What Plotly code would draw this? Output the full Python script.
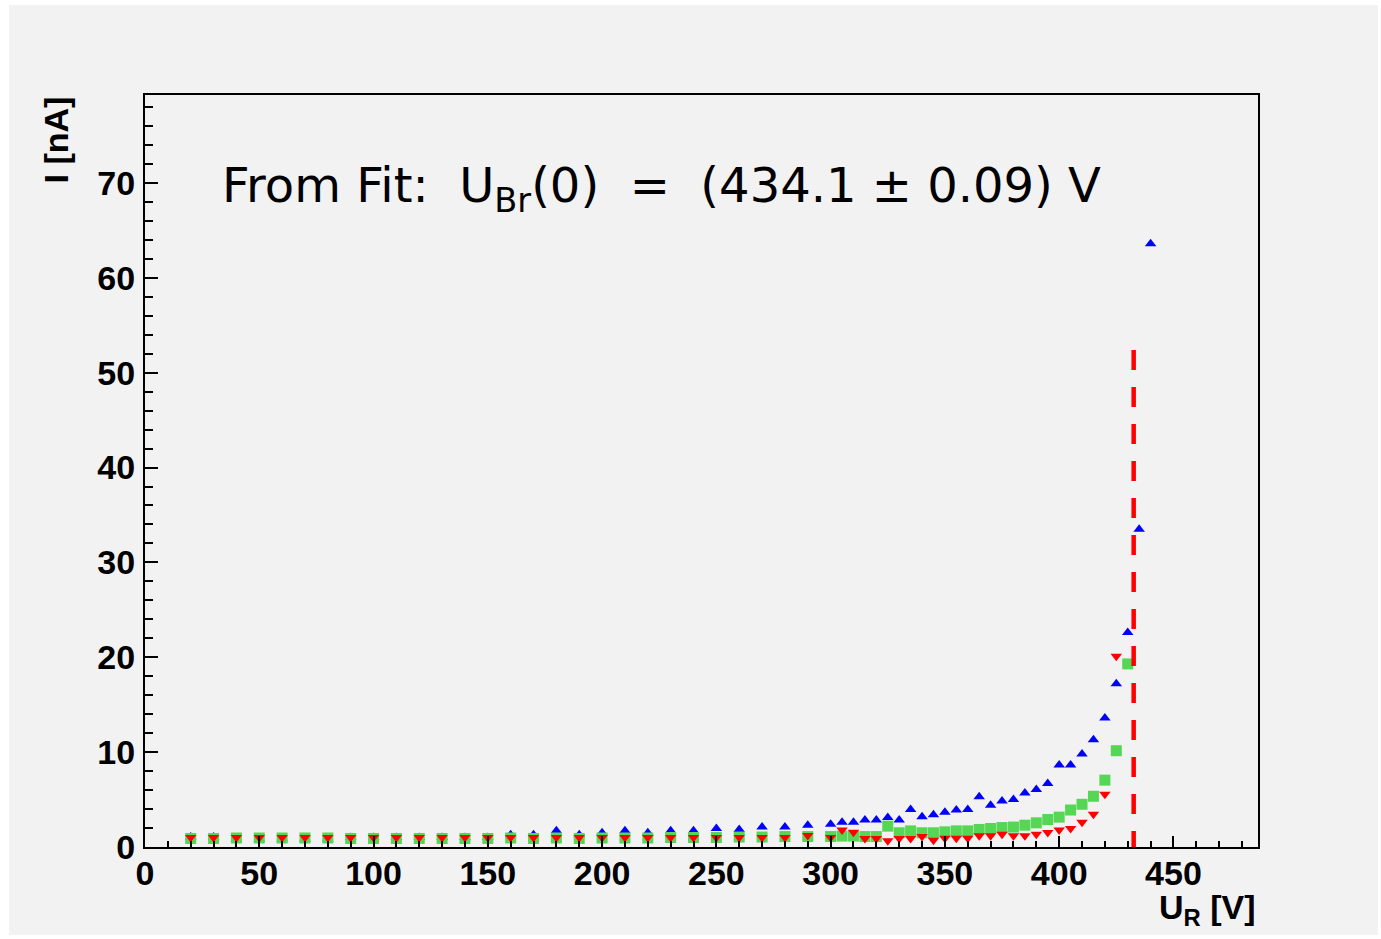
import plotly.graph_objects as go

# ---- data ----
u_low = [20, 30, 40, 50, 60, 70, 80, 90, 100, 110, 120, 130, 140, 150, 160, 170, 180, 190,
         200, 210, 220, 230, 240, 250, 260, 270, 280, 290]
u_high = [300, 305, 310, 315, 320, 325, 330, 335, 340, 345, 350, 355, 360, 365, 370, 375,
          380, 385, 390, 395, 400, 405, 410, 415, 420, 425, 430, 435, 440]

blue_low = [1.05, 1.05, 0.85, 0.85, 0.85, 0.85, 0.85, 1.0, 1.0, 1.0, 1.0, 1.0, 1.0, 1.0,
            1.3, 1.3, 1.7, 1.3, 1.5, 1.7, 1.5, 1.7, 1.7, 1.95, 1.85, 2.1, 2.1, 2.3]
blue_high = [2.4, 2.6, 2.6, 2.85, 2.85, 3.1, 2.85, 3.95, 3.2, 3.4, 3.65, 3.9, 3.95, 5.3,
             4.4, 4.85, 5.0, 5.7, 6.05, 6.7, 8.65, 8.65, 9.8, 11.3, 13.6, 17.2, 22.6, 33.5, 63.6]

green_low = [0.9, 0.9, 0.95, 0.95, 0.95, 0.95, 0.95, 0.9, 0.9, 0.9, 0.9, 0.9, 0.9, 0.9,
             0.95, 0.9, 0.95, 0.9, 0.95, 0.95, 0.95, 1.0, 1.0, 1.0, 1.05, 1.05, 1.1, 1.1]
green_high = [1.1, 1.15, 1.15, 1.1, 1.1, 2.2, 1.5, 1.7, 1.5, 1.5, 1.6, 1.7, 1.7, 1.85, 1.95,
              2.05, 2.1, 2.3, 2.55, 2.9, 3.15, 3.9, 4.5, 5.35, 7.05, 10.15, 19.3]

red_low = [1.0, 1.0, 1.0, 1.0, 1.0, 1.0, 1.0, 1.0, 1.0, 1.0, 1.0, 1.0, 1.0, 1.0,
           1.0, 1.0, 1.0, 1.0, 1.0, 1.0, 1.0, 1.0, 1.0, 1.0, 1.0, 1.0, 1.0, 1.2]
red_high = [1.0, 1.8, 1.55, 0.9, 0.9, 0.65, 0.9, 0.9, 1.1, 0.72, 0.93, 0.93, 0.93, 1.18,
            1.18, 1.35, 1.18, 1.18, 1.35, 1.53, 1.8, 1.95, 2.6, 3.45, 5.57, 20.1]

# dashed breakdown marker, drawn from top to bottom
u_breakdown_line = [432.6, 432.6]
i_breakdown_line = [52.4, 0]

fit_text = "From Fit:  U<sub>Br</sub>(0)  =  (434.1 ± 0.09) V"

# ---- figure ----
W, H = 1381, 939
L, R, T, B = 145, 1381 - 1258, 95, 939 - 847
pw, ph = W - L - R, H - T - B


def px2x(p):
    return (p - L) / pw


def py2y(p):
    return (H - B - p) / ph


fig = go.Figure()

fig.add_trace(go.Scatter(
    x=u_low + u_high, y=blue_low + blue_high, mode="markers",
    marker=dict(symbol="triangle-up", size=10, color="#0000ff", line=dict(width=0)),
))
fig.add_trace(go.Scatter(
    x=u_low + u_high[:len(green_high)], y=green_low + green_high, mode="markers",
    marker=dict(symbol="square", size=11, color="#55d655", line=dict(width=0)),
))
fig.add_trace(go.Scatter(
    x=u_low + u_high[:len(red_high)], y=red_low + red_high, mode="markers",
    marker=dict(symbol="triangle-down", size=10, color="#ff0000", line=dict(width=0)),
))
fig.add_trace(go.Scatter(
    x=u_breakdown_line, y=i_breakdown_line, mode="lines",
    line=dict(color="#ff0000", width=4.5, dash="20px,17px"),
))

tickfont = dict(family="Liberation Sans, Arial, sans-serif", size=34, color="black", weight="bold")

fig.update_xaxes(
    range=[0, 487], showgrid=False, zeroline=False,
    showline=True, linecolor="black", linewidth=2, mirror=True,
    ticks="inside", ticklen=11, tickwidth=2, tickcolor="black",
    tickvals=[0, 50, 100, 150, 200, 250, 300, 350, 400, 450],
    minor=dict(dtick=10, ticks="inside", ticklen=6, tickwidth=2, tickcolor="black"),
    tickfont=tickfont, ticklabelstandoff=-5,
)
fig.update_yaxes(
    range=[0, 79.27], showgrid=False, zeroline=False,
    showline=True, linecolor="black", linewidth=2, mirror=True,
    ticks="inside", ticklen=13, tickwidth=2, tickcolor="black",
    tickvals=[0, 10, 20, 30, 40, 50, 60, 70],
    minor=dict(dtick=2, ticks="inside", ticklen=8, tickwidth=2, tickcolor="black"),
    tickfont=tickfont, ticklabelstandoff=1,
)

fig.update_layout(
    width=W, height=H,
    margin=dict(l=L, r=R, t=T, b=B, pad=0),
    paper_bgcolor="white", plot_bgcolor="rgba(0,0,0,0)",
    showlegend=False,
    shapes=[dict(type="rect", xref="paper", yref="paper",
                 x0=px2x(9), x1=px2x(1378), y0=py2y(935), y1=py2y(5),
                 fillcolor="#f2f2f2", line=dict(width=0), layer="below")],
    annotations=[
        dict(text=fit_text, xref="paper", yref="paper", x=px2x(220), y=py2y(188),
             xanchor="left", yanchor="middle", showarrow=False,
             font=dict(family="DejaVu Sans, Verdana, sans-serif", size=48, color="black")),
        dict(text="I [nA]", xref="paper", yref="paper", x=px2x(55), y=1,
             xanchor="center", yanchor="top", textangle=-90, showarrow=False,
             font=dict(family="Liberation Sans, Arial, sans-serif", size=34, color="black",
                       weight="bold")),
        dict(text="U<sub>R</sub> [V]", xref="paper", yref="paper", x=1, y=py2y(910),
             xanchor="right", yanchor="middle", showarrow=False,
             font=dict(family="Liberation Sans, Arial, sans-serif", size=34, color="black",
                       weight="bold")),
    ],
)

fig.write_html("out.html")
